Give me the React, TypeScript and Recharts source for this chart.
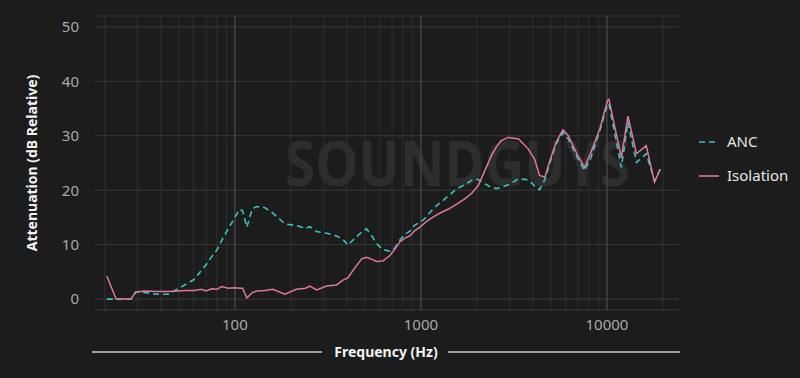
import React from 'react'
import {
  LineChart, Line, XAxis, YAxis, CartesianGrid, ReferenceLine,
} from 'recharts'

// frequencies (Hz) of the measured points
const FREQS = [
  20.5, 23, 27.6, 29.3, 33, 38, 44, 49, 55, 61, 66, 70, 75, 80, 85, 92, 100, 106, 110, 116,
  124, 131, 145, 160, 186, 214, 240, 253, 275, 311, 352, 381, 405, 430, 480, 510, 545, 577,
  624, 681, 725, 770, 820, 872, 927, 988, 1050, 1118, 1190, 1300, 1400, 1550, 1720, 1870,
  2030, 2200, 2390, 2550, 2700, 2950, 3350, 3770, 4090, 4340, 4640, 4930, 5330, 5800, 6200,
  6980, 7580, 8210, 9160, 10080, 10250, 11950, 12980, 14410, 16270, 18020, 19360,
]

const ANC = [
  0, 0, 0, 1.3, 1.2, 0.9, 0.9, 1.8, 2.8, 3.7, 5.3, 6.3, 7.8, 9.0, 10.8, 12.9, 15.0, 16.5, 16.2, 13.2,
  16.6, 17.0, 16.8, 15.8, 13.8, 13.5, 13.0, 13.3, 12.4, 12.1, 11.6, 11.0, 9.9, 10.8, 12.3, 12.9, 11.6, 10.2,
  9.1, 8.8, 9.4, 10.8, 11.9, 12.5, 13.6, 14.1, 14.8, 15.9, 16.9, 18.0, 18.9, 20.2, 21.0, 21.8,
  22.0, 21.2, 20.5, 20.3, 20.5, 21.0, 22.1, 21.9, 20.8, 20.1, 22.0, 25.0, 28.5, 30.6, 29.4,
  25.8, 23.6, 26.0, 31.0, 35.8, 35.9, 24.2, 32.5, 25.1, 26.7, 21.7, 23.9,
]

const ISOLATION = [
  4.2, 0, 0, 1.3, 1.5, 1.4, 1.4, 1.5, 1.6, 1.6, 1.8, 1.5, 1.9, 1.8, 2.3, 2.0, 2.1, 2.0, 2.0, 0.2,
  1.2, 1.5, 1.6, 1.8, 0.9, 1.8, 2.0, 2.4, 1.7, 2.4, 2.6, 3.5, 3.9, 5.2, 7.4, 7.7, 7.3, 6.9,
  7.0, 8.0, 9.2, 10.5, 11.2, 11.6, 12.6, 13.2, 14.0, 14.7, 15.3, 16.0, 16.5, 17.4, 18.4, 19.4,
  20.8, 23.5, 26.3, 28.0, 29.1, 29.7, 29.4, 27.6, 25.7, 22.7, 22.4, 25.4, 28.8, 31.1, 30.0,
  26.3, 24.2, 27.0, 31.3, 36.5, 36.7, 26.0, 33.6, 26.7, 28.2, 21.5, 23.9,
]

const X_TICKS = [100, 1000, 10000]
const Y_TICKS = [0, 10, 20, 30, 40, 50]
const MINOR_GRID = [
  20, 30, 40, 50, 60, 70, 80, 90, 200, 300, 400, 500, 600, 700, 800, 900,
  2000, 3000, 4000, 5000, 6000, 7000, 8000, 9000, 20000,
]
const SERIES = [
  { name: 'ANC', color: '#36c5bf', dash: '6 4' },
  { name: 'Isolation', color: '#df779e', dash: undefined },
]

const data = FREQS.map((f, i) => ({ f, anc: ANC[i], iso: ISOLATION[i] }))

const BG = '#1c1c1c'
const FONT = '"Noto Sans", sans-serif'

export default function App() {
  return (
    <div style={{ position: 'absolute', left: 0, top: 0, width: 800, height: 378, background: BG, overflow: 'hidden' }}>
      {/* watermark */}
      <svg width={800} height={378} style={{ position: 'absolute', left: 0, top: 0 }}>
        <text x={285} y={186} fontSize={62} fontWeight={700} fontFamily={FONT} fill="#2d2d2d"
          textLength={345} lengthAdjust="spacingAndGlyphs">SOUNDGUYS</text>
      </svg>
      <div style={{ position: 'absolute', left: 0, top: 0 }}>
        <LineChart width={800} height={378} data={data} margin={{ top: 16, right: 121, left: 0, bottom: 0 }}>
          <CartesianGrid vertical={false} stroke="#383838" strokeWidth={1} />
          {MINOR_GRID.map(g => (
            <ReferenceLine key={g} x={g} stroke="#2f2f2f" strokeWidth={1} />
          ))}
          {X_TICKS.map(g => (
            <ReferenceLine key={'d' + g} x={g} stroke="#4e4e4e" strokeWidth={1.2} />
          ))}
          <XAxis
            dataKey="f"
            type="number"
            scale="log"
            domain={[17.7, 24400]}
            allowDataOverflow
            ticks={X_TICKS}
            axisLine={false}
            tickLine={false}
            tickSize={0}
            tickMargin={9}
            height={68}
            tick={{ fill: '#a9a9a9', fontSize: 15, fontFamily: FONT }}
          />
          <YAxis
            type="number"
            domain={[-2, 52]}
            allowDataOverflow
            ticks={Y_TICKS}
            axisLine={false}
            tickLine={false}
            tickSize={0}
            tickMargin={16}
            width={95}
            tick={{ fill: '#a9a9a9', fontSize: 15, fontFamily: FONT }}
            label={{
              value: 'Attenuation (dB Relative)', angle: -90, position: 'insideLeft', offset: 32,
              style: { fill: '#f2f2f2', fontSize: 14, fontWeight: 700, fontFamily: FONT, textAnchor: 'middle' },
            }}
          />
          <Line
            type="linear"
            dataKey="anc"
            name="ANC"
            stroke={SERIES[0].color}
            strokeWidth={1.6}
            strokeDasharray="6 4"
            dot={false}
            isAnimationActive={false}
          />
          <Line
            type="linear"
            dataKey="iso"
            name="Isolation"
            stroke={SERIES[1].color}
            strokeWidth={1.5}
            dot={false}
            isAnimationActive={false}
          />
        </LineChart>
      </div>
      {/* legend and x axis title with rule */}
      <svg width={800} height={378} style={{ position: 'absolute', left: 0, top: 0, pointerEvents: 'none' }}>
        {SERIES.map((it, i) => (
          <g key={it.name} transform={`translate(699, ${142 + i * 34})`}>
            <line x1={0} x2={20} y1={0} y2={0} stroke={it.color} strokeWidth={1.6} strokeDasharray={it.dash} />
            <text x={28} y={5} fill="#e6e6e6" fontSize={15} fontFamily={FONT}>{it.name}</text>
          </g>
        ))}
        <line x1={92} x2={322} y1={352} y2={352} stroke="#c8c8c8" strokeWidth={1.5} />
        <line x1={448} x2={680} y1={352} y2={352} stroke="#c8c8c8" strokeWidth={1.5} />
        <text x={386} y={357} textAnchor="middle" fill="#f2f2f2" fontSize={14} fontWeight={700} fontFamily={FONT}>
          Frequency (Hz)
        </text>
      </svg>
    </div>
  )
}
